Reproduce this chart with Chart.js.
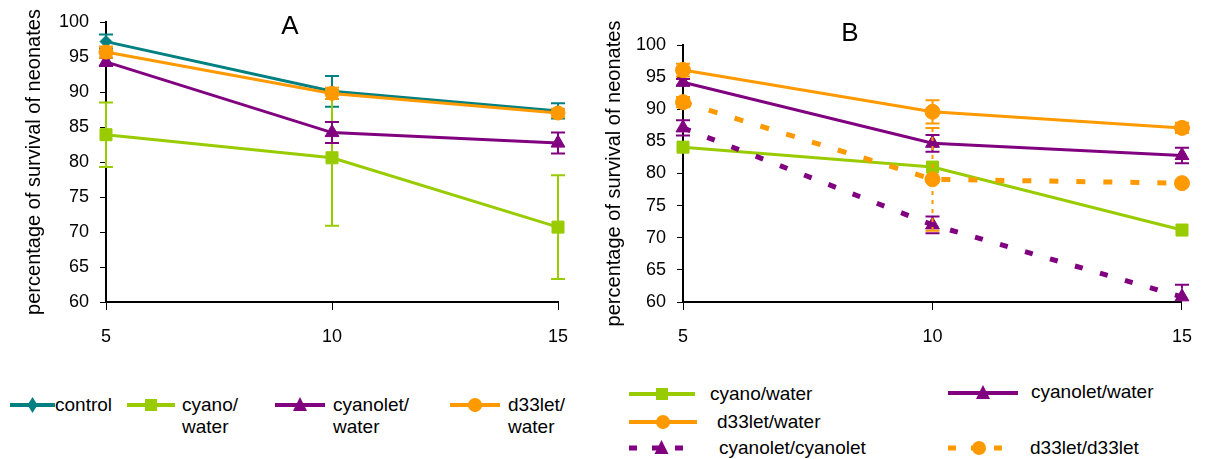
<!DOCTYPE html>
<html><head><meta charset="utf-8">
<script src="https://cdn.jsdelivr.net/npm/chart.js@4"></script>
<style>
body{margin:0;background:#fff;width:1208px;height:459px;position:relative;overflow:hidden;font-family:"Liberation Sans",Arial,sans-serif;}
#wa{position:absolute;left:0;top:0;width:600px;height:360px;}
#wb{position:absolute;left:600px;top:0;width:608px;height:360px;}
.ttl{position:absolute;font-size:26px;line-height:26px;transform:translate(-50%,-50%);color:#000;}
.lg{position:absolute;font-size:19px;line-height:22px;color:#000;white-space:nowrap;}
svg.sym{position:absolute;overflow:visible;}
</style></head>
<body>
<div id="wa"><canvas id="ca"></canvas></div>
<div id="wb"><canvas id="cb"></canvas></div>
<div class="ttl" style="left:290px;top:25px">A</div>
<div class="ttl" style="left:850px;top:32px">B</div>
<div id="legend"></div>
<script>
// ---- data ----
const days = [5, 10, 15];
const yTickValues = [60, 65, 70, 75, 80, 85, 90, 95, 100];
const yAxisTitle = "percentage of survival of neonates";

// Panel A
const aControl = [97.2, 90.1, 87.3];
const aControlErr = [1.0, 2.2, 1.1];
const aCyanoWater = [83.9, 80.6, 70.7];
const aCyanoWaterErr = [4.6, 9.7, 7.4];
const aCyanoletWater = [94.3, 84.2, 82.7];
const aCyanoletWaterErr = [0.6, 1.5, 1.5];
const aD33letWater = [95.7, 89.8, 87.0];
const aD33letWaterErr = [0.8, 0.8, 0.6];

// Panel B
const bCyanoWater = [84.1, 81.0, 71.2];
const bCyanoWaterErr = [0, 0, 0];
const bCyanoletWater = [94.2, 84.7, 82.8];
const bCyanoletWaterErr = [0.5, 1.3, 1.2];
const bD33letWater = [96.1, 89.6, 87.1];
const bD33letWaterErr = [1.0, 1.8, 0.8];
const bCyanoletCyanolet = [87.1, 72.0, 60.8];
const bCyanoletCyanoletErr = [1.2, 1.3, 1.9];
const bD33letD33let = [91.1, 79.1, 78.5];
const bD33letD33letErr = [0.8, 8.0, 0.5];

const TEAL = '#008080', GREEN = '#99CC00', PURPLE = '#800080', ORANGE = '#FF9900';

function pts(vals){ return days.map((d,i)=>({x:d, y:vals[i]})); }

function ds(label, vals, errs, color, style, radius, dash, order){
  return {label, data: pts(vals), errors: errs, borderColor: color, backgroundColor: color,
    pointBackgroundColor: color, pointBorderColor: color, pointStyle: style, pointRadius: radius,
    pointBorderWidth: 1, borderWidth: dash ? 5 : 3, borderDash: dash || [], tension: 0,
    order: order, clip: false, fill: false};
}

const errorBarPlugin = {
  id: 'errbars',
  afterDatasetDraw(chart, args){
    const d = chart.data.datasets[args.index];
    if(!d.errors) return;
    const y = chart.scales.y, ctx = chart.ctx, ca = chart.chartArea;
    ctx.save();
    ctx.beginPath();
    ctx.rect(ca.left - 20, 0, ca.right - ca.left + 40, ca.bottom);
    ctx.clip();
    ctx.strokeStyle = d.borderColor;
    ctx.lineWidth = 2;
    args.meta.data.forEach((pt,i)=>{
      const e = d.errors[i];
      if(!e) return;
      const v = d.data[i].y;
      const t = y.getPixelForValue(v+e), b = y.getPixelForValue(v-e);
      ctx.setLineDash(d.borderDash.length ? [4,5] : []);
      ctx.beginPath(); ctx.moveTo(pt.x, t); ctx.lineTo(pt.x, b); ctx.stroke();
      ctx.setLineDash([]);
      const c = 7;
      ctx.beginPath();
      ctx.moveTo(pt.x-c, t); ctx.lineTo(pt.x+c, t);
      ctx.moveTo(pt.x-c, b); ctx.lineTo(pt.x+c, b);
      ctx.stroke();
    });
    ctx.restore();
  }
};

function makeOptions(yWidth, titlePad, top, right){
  return {
    responsive: true, maintainAspectRatio: false, animation: false, devicePixelRatio: 1,
    layout: {padding: {left: 0, right: right, top: top, bottom: 0}},
    plugins: {legend: {display: false}, tooltip: {enabled: false}},
    scales: {
      x: {type: 'linear', min: days[0], max: days[days.length-1],
        afterBuildTicks: s => { s.ticks = days.map(v=>({value:v})); },
        afterFit: s => { s.height = 58; },
        grid: {drawOnChartArea: false, drawTicks: true, tickLength: 8, color: '#000', lineWidth: 1},
        border: {display: true, color: '#000', width: 2},
        ticks: {color: '#000', padding: 16, maxRotation: 0, font: {family: 'Liberation Sans', size: 18}}},
      y: {type: 'linear', min: 60, max: 100,
        afterBuildTicks: s => { s.ticks = yTickValues.map(v=>({value:v})); },
        afterFit: s => { s.width = yWidth; },
        grid: {drawOnChartArea: false, drawTicks: true, tickLength: 6, color: '#000', lineWidth: 1},
        border: {display: true, color: '#000', width: 2},
        title: {display: true, text: yAxisTitle, color: '#000', padding: {top: titlePad, bottom: 0},
          font: {family: 'Liberation Sans', size: 20}},
        ticks: {color: '#000', padding: 11, font: {family: 'Liberation Sans', size: 18}}}
    }
  };
}

new Chart(document.getElementById('ca'), {
  type: 'line',
  data: {datasets: [
    ds('control', aControl, aControlErr, TEAL, 'rectRot', 6, null, 4),
    ds('cyano/water', aCyanoWater, aCyanoWaterErr, GREEN, 'rect', 8.5, null, 3),
    ds('cyanolet/water', aCyanoletWater, aCyanoletWaterErr, PURPLE, 'triangle', 8, null, 2),
    ds('d33let/water', aD33letWater, aD33letWaterErr, ORANGE, 'circle', 7, null, 1)
  ]},
  options: makeOptions(106, 22, 22, 42),
  plugins: [errorBarPlugin]
});

new Chart(document.getElementById('cb'), {
  type: 'line',
  data: {datasets: [
    ds('cyano/water', bCyanoWater, bCyanoWaterErr, GREEN, 'rect', 8.5, null, 5),
    ds('cyanolet/water', bCyanoletWater, bCyanoletWaterErr, PURPLE, 'triangle', 8, null, 4),
    ds('d33let/water', bD33letWater, bD33letWaterErr, ORANGE, 'circle', 7.5, null, 3),
    ds('cyanolet/cyanolet', bCyanoletCyanolet, bCyanoletCyanoletErr, PURPLE, 'triangle', 8, [8,18], 2),
    ds('d33let/d33let', bD33letD33let, bD33letD33letErr, ORANGE, 'circle', 7.5, [9,18], 1)
  ]},
  options: makeOptions(83, 2, 45, 16),
  plugins: [errorBarPlugin]
});

// ---- HTML legends ----
function marker(shape, cx, cy, color){
  if(shape==='rect') return `<rect x="${cx-6}" y="${cy-6}" width="12" height="12" fill="${color}"/>`;
  if(shape==='triangle') return `<polygon points="${cx},${cy-8} ${cx+7},${cy+6} ${cx-7},${cy+6}" fill="${color}"/>`;
  if(shape==='circle') return `<circle cx="${cx}" cy="${cy}" r="7" fill="${color}"/>`;
  return `<polygon points="${cx},${cy-8} ${cx+5},${cy} ${cx},${cy+8} ${cx-5},${cy}" fill="${color}"/>`;
}
function addItem(x1, x2, y, color, shape, dashed, textX, textY, html){
  const w = x2-x1;
  const dash = dashed ? 'stroke-dasharray="8,15"' : '';
  const sw = dashed ? 5 : 4;
  const el = document.getElementById('legend');
  el.insertAdjacentHTML('beforeend',
    `<svg class="sym" style="left:${x1}px;top:${y-10}px" width="${w}" height="20">`+
    `<line x1="0" y1="10" x2="${w}" y2="10" stroke="${color}" stroke-width="${sw}" ${dash}/>`+
    marker(shape, w/2, 10, color)+`</svg>`+
    `<div class="lg" style="left:${textX}px;top:${textY}px">${html}</div>`);
}
addItem(10, 55, 405, TEAL, 'rectRot', false, 55, 394, 'control');
addItem(127, 175, 405, GREEN, 'rect', false, 182, 394, 'cyano/<br>water');
addItem(275, 325, 405, PURPLE, 'triangle', false, 333, 394, 'cyanolet/<br>water');
addItem(450, 500, 405, ORANGE, 'circle', false, 508, 394, 'd33let/<br>water');

addItem(629, 695, 394, GREEN, 'rect', false, 710, 383, 'cyano/water');
addItem(948, 1018, 393, PURPLE, 'triangle', false, 1031, 381, 'cyanolet/water');
addItem(629, 697, 422, ORANGE, 'circle', false, 717, 411, 'd33let/water');
addItem(629, 694, 448, PURPLE, 'triangle', true, 719, 437, 'cyanolet/cyanolet');
addItem(948, 1010, 448, ORANGE, 'circle', true, 1030, 437, 'd33let/d33let');
</script>
</body></html>
